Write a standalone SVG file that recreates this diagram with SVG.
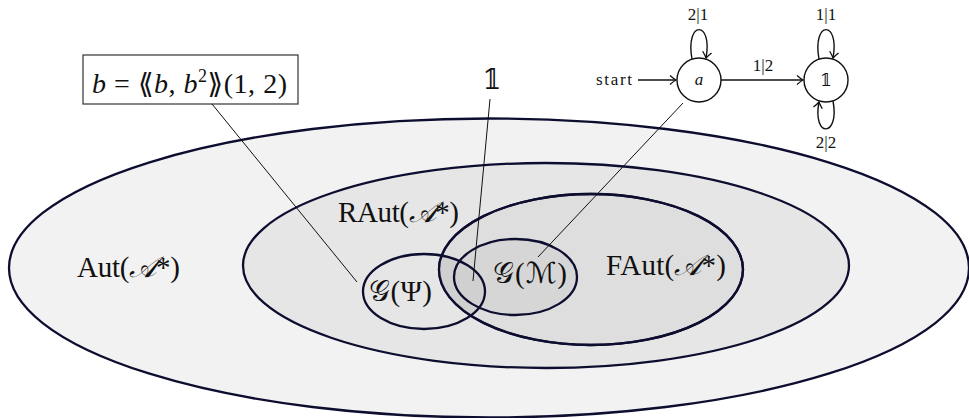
<svg xmlns="http://www.w3.org/2000/svg" width="969" height="418" viewBox="0 0 969 418">
<style>
.set{stroke:#0d0d30;stroke-width:2.3}
.lbl{font-family:"Liberation Serif","DejaVu Serif","DejaVu Sans",serif;fill:#111}
.big{font-size:29px}
.sm{font-size:17px}
.ln{stroke:#111;stroke-width:1;fill:none}
.edge{stroke:#111;stroke-width:1.4;fill:none}
</style>
<defs>
<marker id="arr" viewBox="-7 -6 9 12" refX="0" refY="0" markerWidth="9" markerHeight="12" markerUnits="userSpaceOnUse" orient="auto">
<path d="M-6,-4.5 Q-2,-1 0,0 Q-2,1 -6,4.5" fill="none" stroke="#111" stroke-width="1.3"/>
</marker>
<clipPath id="faut"><ellipse cx="591" cy="269.5" rx="152" ry="75.5"/></clipPath>
</defs>
<rect width="969" height="418" fill="#fff"/>
<g id="aut">
<ellipse class="set" cx="489" cy="268" rx="480" ry="149.5" fill="#f2f2f2"/>
<text class="lbl big" x="77" y="277" textLength="103">Aut(<tspan font-style="italic">𝒜</tspan>*)</text>
</g>
<g id="raut">
<ellipse class="set" cx="546" cy="265.5" rx="303" ry="102.5" fill="#e6e6e6"/>
<text class="lbl big" x="338" y="222" textLength="121">RAut(<tspan font-style="italic">𝒜</tspan>*)</text>
</g>
<g id="faut-node">
<ellipse class="set" cx="591" cy="269.5" rx="152" ry="75.5" fill="#dedede"/>
<text class="lbl big" x="606" y="275" textLength="120">FAut(<tspan font-style="italic">𝒜</tspan>*)</text>
</g>
<g id="gm">
<ellipse cx="515.5" cy="277" rx="61.5" ry="38" fill="#d6d6d6"/>
</g>
<g id="gpsi">
<ellipse cx="424" cy="291.5" rx="61" ry="37.5" fill="#d0d0d0" clip-path="url(#faut)"/>
</g>
<g id="outlines" fill="none">
<ellipse class="set" cx="591" cy="269.5" rx="152" ry="75.5"/>
<ellipse class="set" cx="515.5" cy="277" rx="61.5" ry="38"/>
<ellipse class="set" cx="424" cy="291.5" rx="61" ry="37.5"/>
</g>
<text class="lbl big" x="493" y="283" textLength="74">𝒢(ℳ)</text>
<text class="lbl big" x="369" y="301" textLength="63">𝒢(Ψ)</text>
<g id="box">
<rect x="83" y="55" width="215" height="49" fill="#fff" stroke="#333" stroke-width="1.2"/>
<text class="lbl" font-size="28" x="92" y="93" textLength="195"><tspan font-style="italic">b</tspan> = ⟪<tspan font-style="italic">b</tspan>, <tspan font-style="italic">b</tspan><tspan font-size="18" dy="-11">2</tspan><tspan dy="11">⟫(1, 2)</tspan></text>
</g>
<g id="one-label">
<text class="lbl" font-size="27" x="492" y="89" text-anchor="middle">𝟙</text>
</g>
<g id="connectors">
<line class="ln" x1="212" y1="104" x2="357" y2="282"/>
<line class="ln" x1="490" y1="99" x2="473" y2="281"/>
<line class="ln" x1="683" y1="103" x2="538" y2="257"/>
</g>
<g id="automaton">
<g id="state-a">
<circle cx="699" cy="80" r="22" fill="#fff" stroke="#111" stroke-width="1.4"/>
<text class="lbl" font-size="17" font-style="italic" x="699" y="85" text-anchor="middle">a</text>
</g>
<g id="state-1">
<circle cx="826" cy="80" r="22" fill="#fff" stroke="#111" stroke-width="1.4"/>
<text class="lbl" font-size="17" x="826" y="86" text-anchor="middle">𝟙</text>
</g>
<g id="edges">
<text class="lbl" font-size="17" x="596" y="85" textLength="36">start</text>
<line class="edge" x1="638" y1="80" x2="676" y2="80" marker-end="url(#arr)"/>
<line class="edge" x1="721" y1="80" x2="803" y2="80" marker-end="url(#arr)"/>
<text class="lbl sm" x="763" y="71" text-anchor="middle">1|2</text>
<path class="edge" d="M692,59 C685,20 713,20 706,58" marker-end="url(#arr)"/>
<text class="lbl sm" x="698" y="20" text-anchor="middle">2|1</text>
<path class="edge" d="M819,59 C812,20 840,20 833,58" marker-end="url(#arr)"/>
<text class="lbl sm" x="826" y="20" text-anchor="middle">1|1</text>
<path class="edge" d="M833,101 C840,138 812,138 819,102" marker-end="url(#arr)"/>
<text class="lbl sm" x="826" y="148" text-anchor="middle">2|2</text>
</g>
</g>
</svg>
